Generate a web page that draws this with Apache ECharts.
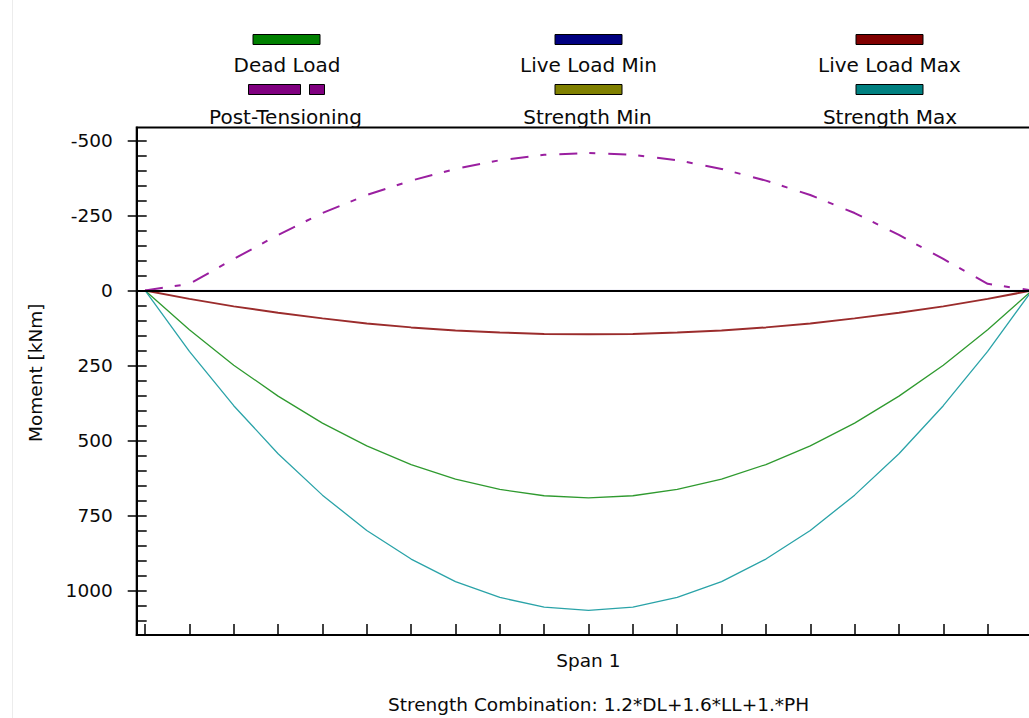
<!DOCTYPE html>
<html>
<head>
<meta charset="utf-8">
<script src="https://cdn.jsdelivr.net/npm/echarts@6/dist/echarts.min.js"></script>
<style>
  html, body { margin: 0; padding: 0; background: #fff; }
  #chart { width: 1029px; height: 718px; }
</style>
</head>
<body>
<div id="chart"></div>
<script>
// ---- data ----
const spanPos = [0, 0.05, 0.10, 0.15, 0.20, 0.25, 0.30, 0.35, 0.40, 0.45, 0.50,
                 0.55, 0.60, 0.65, 0.70, 0.75, 0.80, 0.85, 0.90, 0.95, 1.00];
const deadLoad = [0, 131, 249, 352, 442, 518, 580, 629, 663, 684, 691,
                  684, 663, 629, 580, 518, 442, 352, 249, 131, 0];
const liveLoadMin = [0, 0, 0, 0, 0, 0, 0, 0, 0, 0, 0,
                     0, 0, 0, 0, 0, 0, 0, 0, 0, 0];
const liveLoadMax = [0, 28, 53, 74, 93, 110, 123, 133, 140, 145, 146,
                     145, 140, 133, 123, 110, 93, 74, 53, 28, 0];
const postTensioning = [0, -22, -105, -185, -258, -318, -366, -405, -434, -452, -458,
                        -452, -434, -405, -366, -318, -258, -185, -105, -22, 0];
const strengthMin = []; // not visible in the reference
const strengthMax = [0, 203, 384, 544, 682, 800, 895, 970, 1023, 1055, 1066,
                     1055, 1023, 970, 895, 800, 682, 544, 384, 203, 0];
const yMajorTicks = [-500, -250, 0, 250, 500, 750, 1000];
const yMinorTicks = [-500, -450, -400, -350, -300, -250, -200, -150, -100, -50, 0,
                     50, 100, 150, 200, 250, 300, 350, 400, 450, 500, 550, 600, 650,
                     700, 750, 800, 850, 900, 950, 1000, 1050, 1100];
const xTicks = [0, 0.05, 0.10, 0.15, 0.20, 0.25, 0.30, 0.35, 0.40, 0.45, 0.50,
                0.55, 0.60, 0.65, 0.70, 0.75, 0.80, 0.85, 0.90, 0.95, 1.00];
const seriesNames = ['Dead Load', 'Live Load Min', 'Live Load Max',
                     'Post-Tensioning', 'Strength Min', 'Strength Max'];
const axisTitleY = 'Moment [kNm]';
const axisTitleX = 'Span 1';
const footnote = 'Strength Combination: 1.2*DL+1.6*LL+1.*PH';

// ---- styling ----
const FONT = 'DejaVu Sans';
const TXT = '#0a0a0a';
const legendFill = ['#008000', '#000080', '#800000', '#800080', '#808000', '#008080'];
const lineColor = ['#2f9a2f', '#000080', '#9b2c2c', '#9a1fa0', '#808000', '#2aa3a8'];

function pairs(vals) { return vals.map((v, i) => [spanPos[i], v]); }

const chart = echarts.init(document.getElementById('chart'), null, { renderer: 'svg' });

const iconPos = [
  { left: 252.5, top: 34 }, { left: 554.5, top: 34 }, { left: 855.5, top: 34 },
  { left: 248, top: 84 }, { left: 554.5, top: 84 }, { left: 855.5, top: 84 }
];
const textPos = [
  { cx: 287, top: 54.6 }, { cx: 588.5, top: 54.6 }, { cx: 889.5, top: 54.6 },
  { cx: 285.5, top: 106.6 }, { cx: 587.5, top: 106.6 }, { cx: 890, top: 106.6 }
];
const iconLegends = seriesNames.map((name, i) => ({
  data: [{ name: name, itemStyle: { color: legendFill[i] } }],
  left: iconPos[i].left, top: iconPos[i].top, padding: 0,
  itemWidth: i === 3 ? 76 : 67, itemHeight: 10,
  icon: i === 3 ? 'path://M0,0H52V10H0ZM61,0H76V10H61Z' : 'rect',
  itemStyle: { borderColor: '#000', borderWidth: 1 },
  selectedMode: false,
  formatter: () => '',
  textStyle: { fontSize: 1 }
}));
const TW = 250;
const textLegends = seriesNames.map((name, i) => ({
  data: [name], left: textPos[i].cx - 5 - TW / 2, top: textPos[i].top, padding: 0,
  itemWidth: 0, itemHeight: 14, icon: 'rect',
  itemStyle: { color: 'rgba(0,0,0,0)', borderWidth: 0 },
  selectedMode: false,
  formatter: n => '{t|' + n + '}',
  textStyle: {
    fontFamily: FONT, fontSize: 20, color: TXT,
    rich: { t: { width: TW, align: 'center', fontFamily: FONT, fontSize: 20, color: TXT } }
  }
}));

const option = {
  backgroundColor: '#fff',
  animation: false,
  title: {
    text: footnote, left: 388, top: 695.3, padding: 0,
    textStyle: { fontFamily: FONT, fontSize: 18.5, fontWeight: 'normal', color: TXT }
  },
  legend: iconLegends.concat(textLegends),
  grid: { left: 136.7, top: 127.5, right: -3, bottom: 83, outerBoundsMode: 'none',
          show: true, borderColor: '#000', borderWidth: 2, backgroundColor: 'transparent' },
  xAxis: {
    type: 'value', min: -0.0094, max: 1.0,
    name: axisTitleX, nameLocation: 'middle', nameGap: 15.5,
    nameTextStyle: { fontFamily: FONT, fontSize: 18.5, color: TXT, padding: [0, 0, 0, 8] },
    axisLine: { show: true, onZero: false, lineStyle: { color: '#000', width: 2 } },
    axisTick: { show: true, inside: true, length: 11, customValues: xTicks,
                lineStyle: { color: '#000', width: 1.5 } },
    axisLabel: { show: false },
    splitLine: { show: false }
  },
  yAxis: [
    {
      type: 'value', min: -543, max: 1148, inverse: true, position: 'left',
      name: axisTitleY, nameLocation: 'middle', nameGap: 92,
      nameTextStyle: { fontFamily: FONT, fontSize: 18.5, color: TXT, padding: [0, 0, 0, 17] },
      axisLine: { show: true, onZero: false, lineStyle: { color: '#000', width: 2 } },
      axisTick: { show: true, inside: false, length: 9, customValues: yMajorTicks,
                  lineStyle: { color: '#000', width: 1.5 } },
      axisLabel: { show: true, customValues: yMajorTicks, margin: 24,
                   fontFamily: FONT, fontSize: 18.5, color: TXT,
                   formatter: v => String(v) },
      splitLine: { show: false }
    },
    {
      type: 'value', min: -543, max: 1148, inverse: true, position: 'left',
      axisLine: { show: false, onZero: false },
      axisTick: { show: true, inside: true, length: 10, customValues: yMinorTicks,
                  lineStyle: { color: '#000', width: 1.5 } },
      axisLabel: { show: false },
      splitLine: { show: false }
    }
  ],
  series: [
    { name: seriesNames[1], type: 'line', data: pairs(liveLoadMin), symbol: 'none', z: 1,
      lineStyle: { color: lineColor[1], width: 1 }, itemStyle: { color: lineColor[1] } },
    { name: seriesNames[4], type: 'line', data: strengthMin, symbol: 'none',
      lineStyle: { color: lineColor[4], width: 1.3 }, itemStyle: { color: lineColor[4] } },
    { name: seriesNames[0], type: 'line', data: pairs(deadLoad), symbol: 'none',
      lineStyle: { color: lineColor[0], width: 1.3 }, itemStyle: { color: lineColor[0] } },
    { name: seriesNames[5], type: 'line', data: pairs(strengthMax), symbol: 'none',
      lineStyle: { color: lineColor[5], width: 1.3 }, itemStyle: { color: lineColor[5] } },
    { name: seriesNames[2], type: 'line', data: pairs(liveLoadMax), symbol: 'none', z: 3,
      lineStyle: { color: lineColor[2], width: 2 }, itemStyle: { color: lineColor[2] } },
    { name: seriesNames[3], type: 'line', data: pairs(postTensioning), symbol: 'none', z: 3,
      lineStyle: { color: lineColor[3], width: 2, type: [18, 12, 6, 13] },
      itemStyle: { color: lineColor[3] },
      markLine: { silent: true, z: 6, symbol: ['none', 'none'], label: { show: false },
                  lineStyle: { color: '#000', width: 2, type: 'solid' },
                  data: [{ yAxis: 0 }] } }
  ],
  graphic: [
    { type: 'line', shape: { x1: 12.5, y1: 0, x2: 12.5, y2: 718 },
      style: { stroke: '#ececec', lineWidth: 1 }, silent: true }
  ]
};
chart.setOption(option);
</script>
</body>
</html>
